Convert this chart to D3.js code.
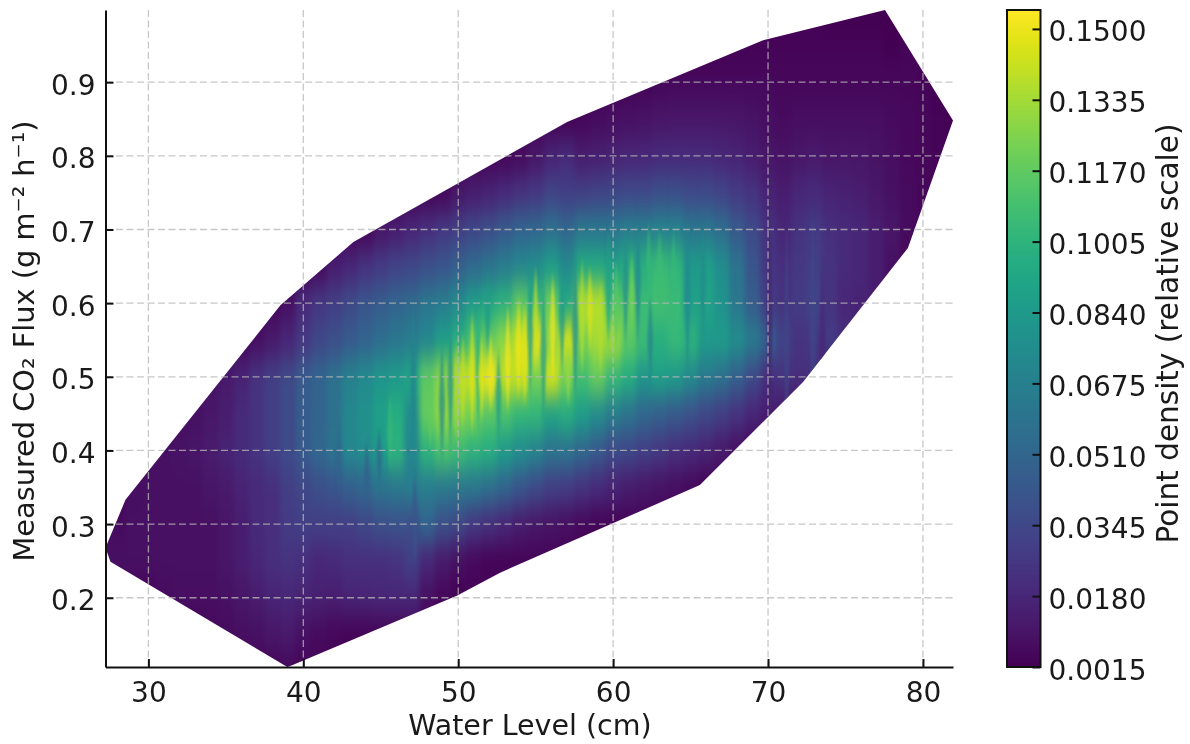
<!DOCTYPE html>
<html><head><meta charset="utf-8">
<script src="https://cdn.jsdelivr.net/npm/d3@7"></script>
<style>html,body{margin:0;padding:0;background:#fff}svg{display:block;filter:blur(.45px)}text{font-family:"DejaVu Sans";fill:#1a1a1a}</style>
</head><body><svg id="c" width="1190" height="744"></svg>
<script>
const xLabel = "Water Level (cm)";
const yLabel = "Measured CO₂ Flux (g m⁻² h⁻¹)";
const cbLabel = "Point density (relative scale)";
const xTicks = [30,40,50,60,70,80];
const yTicks = [0.2,0.3,0.4,0.5,0.6,0.7,0.8,0.9];
const cbTicks = [0.0015,0.018,0.0345,0.051,0.0675,0.084,0.1005,0.117,0.1335,0.15];
const hullX = [27.23,27.55,38.97,39.35,49.94,52.7,65.6,72.26,79.03,81.94,77.55,69.68,57.03,43.23,38.52,28.52];
const hullY = [.268,.249,.106,.109,.203,.234,.353,.493,.675,.848,.998,.957,.846,.683,.597,.333];
// density samples (x 0.001) on a 1 cm by 0.05 grid
const rowY = [.10,.15,.20,.25,.30,.35,.40,.45,.50,.55,.60,.65,.70,.75,.80,.85,.90,.95,1.0];
const rowStartX = [38,34,31,27,27,29,30,32,33,36,38,41,44,48,53,57,62,68,74];
const rowValues = [
[3,4,3],
[5,6,7,8,10,12,8,6,4,3,3],
[6,7,7,7,8,10,13,16,18,16,15,14,16,17,18,18,18,8,4,2],
[8,8,8,8,8,8,8,8,10,14,18,22,24,22,18,20,22,22,22,24,30,18,12,8,5,3],
[6,6,8,8,8,8,8,8,10,14,20,22,28,30,30,30,30,34,38,40,38,50,38,34,26,22,18,14,11,9,7,5,3],
[7,8,8,8,8,10,12,16,20,22,30,34,38,42,48,52,60,62,66,66,64,62,62,56,50,42,36,30,28,24,20,16,13,11,9,7,5,3],
[8,8,9,10,13,16,20,24,30,36,44,52,60,72,76,86,100,72,100,110,106,100,96,84,76,70,60,60,52,44,36,34,30,26,22,20,16,12,8,5,3],
[7,8,11,14,20,24,30,36,46,50,58,72,78,88,96,76,118,130,126,122,114,110,102,102,90,96,86,76,66,60,52,48,44,40,34,30,24,18,14,12,7,4],
[6,8,12,16,24,30,36,44,50,58,68,74,82,84,92,116,128,140,142,150,140,142,122,144,122,108,118,104,96,82,88,84,74,64,58,48,36,22,24,22,22,16,10,4],
[5,8,12,18,26,34,38,44,50,56,62,66,72,86,96,110,118,128,142,150,128,146,122,134,134,116,106,98,104,100,84,84,76,64,50,32,24,26,28,22,16,10,5],
[5,8,20,26,30,36,42,46,50,54,62,66,74,86,94,100,116,102,120,94,134,138,112,116,106,108,106,88,90,80,62,46,30,24,28,32,24,18,16,14,6,4],
[6,14,18,24,28,32,34,38,42,48,54,60,66,72,76,86,74,94,94,88,98,98,106,102,84,88,76,60,42,26,22,26,30,24,20,18,14,8,4,3],
[4,10,14,18,22,26,30,34,38,44,50,52,58,52,62,62,62,66,66,70,70,62,62,56,44,36,24,18,24,28,22,20,18,14,10,6,4,3],
[4,5,10,14,16,20,24,26,32,30,30,32,34,36,36,38,38,36,36,32,28,24,16,14,18,20,16,15,14,11,8,6,4,3],
[4,6,10,16,20,14,15,16,18,18,20,20,20,20,18,16,14,10,9,11,12,10,11,10,9,7,5,4,3],
[3,4,6,7,8,9,10,11,11,11,11,10,9,7,6,7,7,7,7,7,7,6,5,4,3,2],
[3,4,5,5,5,5,5,5,5,4,4,4,4,4,4,4,4,4,3,2],
[3,3,3,3,3,3,3,3,3,3,2],
[2,2,2,2,2]
];
// narrow vertical streaks: position, low end, high end, density
const streakX = [47.1,48.95,51.3,51.9,52.6,54.65,55.5,56.7,57.55,59.7,60.8,61.6,62.4,64.8,65.8,42.3,44.1,44.9,47.2,49.5,70.1,73.5,
 53.9,53.2,52.1,50.9,49.9,56.1,55,58.5,59.2,61.2,48.2,45.6,50.3,51.5,54.3,57.1,58,60.2,62.3,63,63.9,72.9,71.2];
const streakLow = [.40,.38,.42,.53,.41,.47,.43,.50,.46,.54,.54,.54,.49,.50,.55,.34,.32,.35,.24,.40,.40,.42,
 .47,.45,.45,.42,.41,.49,.50,.53,.50,.55,.40,.37,.43,.44,.46,.46,.50,.53,.60,.60,.58,.36,.38];
const streakHigh = [.61,.55,.60,.64,.54,.65,.64,.66,.68,.70,.71,.72,.61,.72,.71,.43,.41,.43,.37,.58,.76,.66,
 .61,.60,.56,.59,.55,.64,.65,.65,.63,.67,.50,.48,.56,.56,.60,.55,.66,.66,.71,.70,.70,.74,.72];
const streakVal = [70,74,98,84,84,84,84,84,76,90,76,72,70,72,74,50,48,52,42,78,16,18,
 150,152,150,146,132,152,142,146,136,122,118,104,140,146,148,130,138,116,104,106,104,34,32];

const svg = d3.select("#c");
const L=105.5,R=953,T=10,B=667;
const x = d3.scaleLinear().domain([27.23,81.94]).range([L,R]);
const y = d3.scaleLinear().domain([.106,.998]).range([B,T]);
const cb = d3.scaleLinear().domain([0.0015,0.1544]).range([667,10]);
const color = d3.scaleSequential(d3.interpolateViridis).domain([0.0015,0.1544]);
const hull = hullX.map((d,i)=>[x(d),y(hullY[i])]);

const defs = svg.append("defs");
defs.append("clipPath").attr("id","hull").append("polygon").attr("points",hull.map(p=>p.join(",")).join(" "));
const mk=(id,sd)=>defs.append("filter").attr("id",id).attr("filterUnits","userSpaceOnUse")
  .attr("x",0).attr("y",-60).attr("width",1100).attr("height",840)
  .attr("color-interpolation-filters","sRGB")
  .append("feGaussianBlur").attr("stdDeviation",sd);
mk("bBase","2.5 13"); mk("bStreak","1 4");

const field = svg.append("g").attr("clip-path","url(#hull)");
const base = field.append("g").attr("filter","url(#bBase)");
base.append("rect").attr("x",x(20)).attr("y",y(1.2)).attr("width",x(90)-x(20)).attr("height",y(0)-y(1.2)).attr("fill",color(0.003));
const cells = rowValues.flatMap((r,i)=>r.map((v,j)=>({x:rowStartX[i]+j,y:rowY[i],v:v/1000})));
base.selectAll("rect.cell").data(cells).join("rect").attr("class","cell")
  .attr("x",d=>x(d.x-.5)).attr("width",x(1)-x(0)+.5)
  .attr("y",d=>y(d.y+.025)).attr("height",y(0)-y(.05)+.5)
  .attr("fill",d=>color(d.v));
const sg = field.append("g").attr("filter","url(#bStreak)").attr("opacity",.72);
sg.selectAll("polygon").data(streakX).join("polygon")
  .attr("points",(d,i)=>{const m=(streakLow[i]+streakHigh[i])/2;
    return [[d,streakHigh[i]],[d+.2,m],[d,streakLow[i]],[d-.2,m]].map(p=>x(p[0])+","+y(p[1])).join(" ");})
  .attr("fill",(d,i)=>color(streakVal[i]/1000));

// grid
const grid = svg.append("g").attr("stroke","#b8b8b8").attr("stroke-opacity",.78).attr("stroke-width",1.3).attr("stroke-dasharray","7 3.5");
grid.selectAll("line.v").data(xTicks).join("line").attr("class","v").attr("x1",x).attr("x2",x).attr("y1",T).attr("y2",B);
grid.selectAll("line.h").data(yTicks).join("line").attr("class","h").attr("y1",y).attr("y2",y).attr("x1",L).attr("x2",R);

// axes
const styleAxis=g=>{g.selectAll("path,line").attr("stroke","#111").attr("stroke-width",2);
  g.selectAll("text").attr("font-size",28).attr("font-family","DejaVu Sans").attr("fill","#1a1a1a");};
const ax = svg.append("g").attr("transform",`translate(0,${B})`)
  .call(d3.axisBottom(x).tickValues(xTicks).tickFormat(d3.format("d")).tickSizeInner(-8).tickSizeOuter(0).tickPadding(10)).call(styleAxis);
ax.selectAll("text").attr("dy","0.9em");
const ay = svg.append("g").attr("transform",`translate(${L},0)`)
  .call(d3.axisLeft(y).tickValues(yTicks).tickFormat(d3.format(".1f")).tickSizeInner(-8).tickSizeOuter(0).tickPadding(10)).call(styleAxis);
ay.selectAll("text").attr("dy","0.43em");

// colorbar
const cbL=1007,cbR=1040.5;
svg.append("g").selectAll("rect").data(d3.range(10,667)).join("rect")
  .attr("x",cbL).attr("width",cbR-cbL).attr("y",d=>d).attr("height",1.5).attr("fill",d=>color(cb.invert(d+.5)));
svg.append("rect").attr("x",cbL).attr("y",10).attr("width",cbR-cbL).attr("height",657).attr("fill","none").attr("stroke","#111").attr("stroke-width",2);
const ac = svg.append("g").attr("transform",`translate(${cbR},0)`)
  .call(d3.axisRight(cb).tickValues(cbTicks).tickFormat(d3.format(".4f")).tickSizeInner(-8).tickSizeOuter(0).tickPadding(8)).call(styleAxis);
ac.select("path").remove();
ac.selectAll("text").attr("dy","0.43em");

svg.append("text").attr("x",530).attr("y",735).attr("text-anchor","middle").attr("font-size",28.5).text(xLabel);
svg.append("text").attr("transform","translate(34,341) rotate(-90)").attr("text-anchor","middle").attr("font-size",28.8).text(yLabel);
svg.append("text").attr("transform","translate(1178,333.5) rotate(-90)").attr("text-anchor","middle").attr("font-size",29.5).text(cbLabel);
</script></body></html>
